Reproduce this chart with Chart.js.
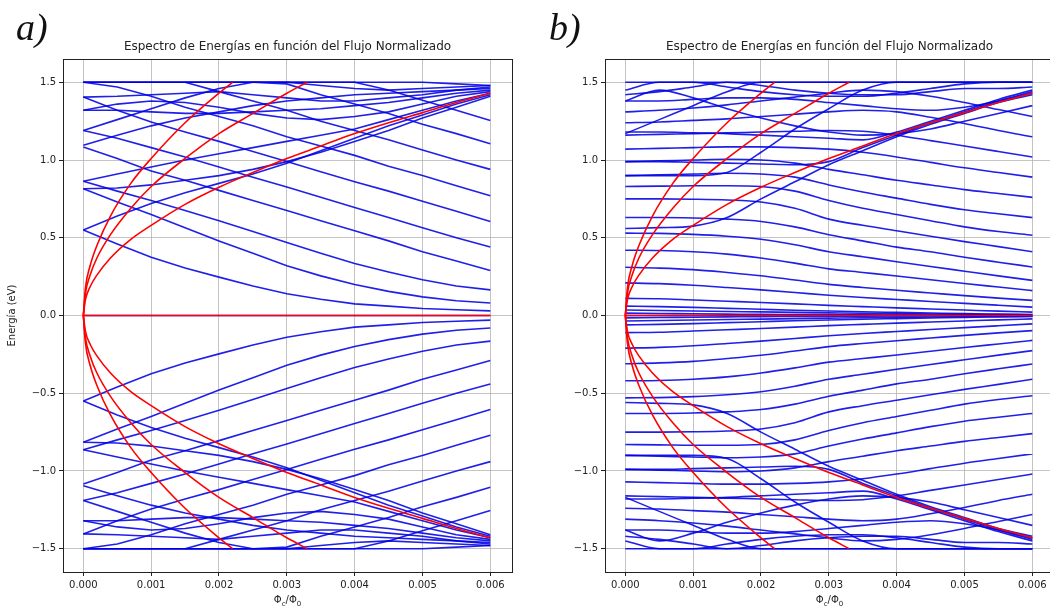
<!DOCTYPE html>
<html>
<head>
<meta charset="utf-8">
<script src="https://cdn.jsdelivr.net/npm/chart.js@4.4.1/dist/chart.umd.min.js"></script>
<style>
  html, body { margin: 0; padding: 0; background: #fff; }
  #wrap { position: relative; width: 1050px; height: 613px; overflow: hidden; }
  #boxA { position: absolute; left: 0; top: 0; width: 525px; height: 613px; }
  #boxB { position: absolute; left: 525px; top: 0; width: 525px; height: 613px; overflow: hidden; }
</style>
</head>
<body>
<div id="wrap">
  <div id="boxA"><canvas id="chartA" width="525" height="613"></canvas></div>
  <div id="boxB"><canvas id="chartB" width="541" height="613"></canvas></div>
</div>
<script>
// flux samples (Phi_c / Phi_0)
const xGrid = [0, 0.0005, 0.001, 0.0015, 0.002, 0.0025, 0.003, 0.0035, 0.004, 0.0045, 0.005, 0.0055, 0.006];

// Landau levels (red)
const llX1 = [0, 0.00003, 0.0001, 0.0002, 0.0004, 0.0007, 0.001, 0.0015, 0.002, 0.0025, 0.003, 0.0035, 0.004, 0.0045, 0.005, 0.0055, 0.006];
const ll1Up = [0, 0.10, 0.185, 0.26, 0.37, 0.49, 0.58, 0.715, 0.825, 0.92, 1.01, 1.09, 1.17, 1.24, 1.305, 1.37, 1.43];
const ll1Dn = [0, -0.10, -0.185, -0.26, -0.37, -0.49, -0.58, -0.715, -0.825, -0.92, -1.01, -1.09, -1.17, -1.24, -1.305, -1.37, -1.43];
const llX2 = [0, 0.00003, 0.0001, 0.0002, 0.0004, 0.0007, 0.001, 0.0015, 0.002, 0.0025, 0.003, 0.0033];
const ll2Up = [0, 0.14, 0.26, 0.37, 0.52, 0.69, 0.83, 1.01, 1.17, 1.30, 1.43, 1.5];
const ll2Dn = [0, -0.14, -0.26, -0.37, -0.52, -0.69, -0.83, -1.01, -1.17, -1.30, -1.43, -1.5];
const llX3 = [0, 0.00003, 0.0001, 0.0002, 0.0004, 0.0007, 0.001, 0.0015, 0.002, 0.0022];
const ll3Up = [0, 0.175, 0.32, 0.45, 0.64, 0.85, 1.01, 1.24, 1.43, 1.5];
const ll3Dn = [0, -0.175, -0.32, -0.45, -0.64, -0.85, -1.01, -1.24, -1.43, -1.5];
const llZeroX = [0, 0.006];
const llZero = [0, 0];

// panel a) blue levels, E > 0
const aUpper = [
  [0, 0, 0, 0, 0, 0, 0, 0, 0, 0, 0, 0, 0],
  [0.55, 0.46, 0.375, 0.305, 0.247, 0.19, 0.14, 0.105, 0.075, 0.06, 0.045, 0.037, 0.03],
  [0.815, 0.73, 0.65, 0.565, 0.48, 0.40, 0.32, 0.255, 0.20, 0.155, 0.12, 0.095, 0.08],
  [0.863, 0.80, 0.74, 0.675, 0.61, 0.54, 0.47, 0.40, 0.335, 0.28, 0.23, 0.19, 0.165],
  [1.084, 1.01, 0.93, 0.87, 0.805, 0.74, 0.676, 0.61, 0.545, 0.48, 0.41, 0.35, 0.29],
  [1.19, 1.14, 1.08, 1.02, 0.955, 0.89, 0.826, 0.76, 0.695, 0.63, 0.565, 0.50, 0.44],
  [1.405, 1.32, 1.245, 1.18, 1.12, 1.055, 0.99, 0.925, 0.86, 0.80, 0.735, 0.67, 0.605],
  [1.50, 1.47, 1.41, 1.34, 1.28, 1.22, 1.15, 1.09, 1.03, 0.96, 0.90, 0.835, 0.77],
  [1.50, 1.50, 1.50, 1.50, 1.44, 1.38, 1.32, 1.25, 1.19, 1.13, 1.065, 1.00, 0.94],
  [1.50, 1.50, 1.50, 1.50, 1.50, 1.50, 1.49, 1.42, 1.36, 1.30, 1.23, 1.17, 1.105],
  [1.50, 1.50, 1.50, 1.50, 1.50, 1.50, 1.50, 1.50, 1.50, 1.45, 1.385, 1.32, 1.255],
  [0.55, 0.64, 0.72, 0.79, 0.85, 0.91, 0.98, 1.06, 1.14, 1.22, 1.29, 1.36, 1.42],
  [0.863, 0.91, 0.955, 1.00, 1.04, 1.08, 1.12, 1.16, 1.20, 1.26, 1.32, 1.38, 1.43],
  [0.815, 0.82, 0.84, 0.87, 0.90, 0.94, 0.99, 1.05, 1.12, 1.19, 1.27, 1.34, 1.41],
  [1.095, 1.16, 1.22, 1.27, 1.31, 1.35, 1.38, 1.40, 1.42, 1.43, 1.44, 1.45, 1.46],
  [1.19, 1.26, 1.33, 1.40, 1.46, 1.50, 1.50, 1.48, 1.46, 1.45, 1.46, 1.47, 1.48],
  [1.32, 1.32, 1.31, 1.30, 1.30, 1.31, 1.32, 1.33, 1.35, 1.37, 1.40, 1.43, 1.45],
  [1.405, 1.41, 1.42, 1.43, 1.44, 1.42, 1.40, 1.38, 1.38, 1.40, 1.42, 1.45, 1.47],
  [1.32, 1.36, 1.38, 1.37, 1.34, 1.30, 1.27, 1.26, 1.28, 1.31, 1.36, 1.41, 1.44],
  [null, null, null, 1.50, 1.50, 1.50, 1.50, 1.50, 1.50, 1.50, 1.50, 1.49, 1.48]
];

// panel a) blue levels, E < 0
const aLower = [
  [-0.55, -0.46, -0.375, -0.305, -0.247, -0.19, -0.14, -0.105, -0.075, -0.06, -0.045, -0.037, -0.03],
  [-0.815, -0.73, -0.65, -0.565, -0.48, -0.40, -0.32, -0.255, -0.20, -0.155, -0.12, -0.095, -0.08],
  [-0.863, -0.80, -0.74, -0.675, -0.61, -0.54, -0.47, -0.40, -0.335, -0.28, -0.23, -0.19, -0.165],
  [-1.084, -1.01, -0.93, -0.87, -0.805, -0.74, -0.676, -0.61, -0.545, -0.48, -0.41, -0.35, -0.29],
  [-1.19, -1.14, -1.08, -1.02, -0.955, -0.89, -0.826, -0.76, -0.695, -0.63, -0.565, -0.50, -0.44],
  [-1.405, -1.32, -1.245, -1.18, -1.12, -1.055, -0.99, -0.925, -0.86, -0.80, -0.735, -0.67, -0.605],
  [-1.50, -1.47, -1.41, -1.34, -1.28, -1.22, -1.15, -1.09, -1.03, -0.96, -0.90, -0.835, -0.77],
  [-1.50, -1.50, -1.50, -1.50, -1.44, -1.38, -1.32, -1.25, -1.19, -1.13, -1.065, -1.00, -0.94],
  [-1.50, -1.50, -1.50, -1.50, -1.50, -1.50, -1.49, -1.42, -1.36, -1.30, -1.23, -1.17, -1.105],
  [-1.50, -1.50, -1.50, -1.50, -1.50, -1.50, -1.50, -1.50, -1.50, -1.45, -1.385, -1.32, -1.255],
  [-0.55, -0.64, -0.72, -0.79, -0.85, -0.91, -0.98, -1.06, -1.14, -1.22, -1.29, -1.36, -1.42],
  [-0.863, -0.91, -0.955, -1.00, -1.04, -1.08, -1.12, -1.16, -1.20, -1.26, -1.32, -1.38, -1.43],
  [-0.815, -0.82, -0.84, -0.87, -0.90, -0.94, -0.99, -1.05, -1.12, -1.19, -1.27, -1.34, -1.41],
  [-1.095, -1.16, -1.22, -1.27, -1.31, -1.35, -1.38, -1.40, -1.42, -1.43, -1.44, -1.45, -1.46],
  [-1.19, -1.26, -1.33, -1.40, -1.46, -1.50, -1.50, -1.48, -1.46, -1.45, -1.46, -1.47, -1.48],
  [-1.32, -1.32, -1.31, -1.30, -1.30, -1.31, -1.32, -1.33, -1.35, -1.37, -1.40, -1.43, -1.45],
  [-1.405, -1.41, -1.42, -1.43, -1.44, -1.42, -1.40, -1.38, -1.38, -1.40, -1.42, -1.45, -1.47],
  [-1.32, -1.36, -1.38, -1.37, -1.34, -1.30, -1.27, -1.26, -1.28, -1.31, -1.36, -1.41, -1.44],
  [null, null, null, -1.50, -1.50, -1.50, -1.50, -1.50, -1.50, -1.50, -1.50, -1.49, -1.48]
];

// panel b) blue levels, E > 0
const bUpper = [
  [0, 0, 0, 0, 0, 0, 0, 0, 0, 0, 0, 0, 0],
  [0.015, 0.013, 0.011, 0.009, 0.007, 0.006, 0.005, 0.004, 0.003, 0.002, 0.002, 0.001, 0.001],
  [0.035, 0.032, 0.029, 0.026, 0.023, 0.020, 0.017, 0.014, 0.012, 0.010, 0.008, 0.006, 0.005],
  [0.06, 0.057, 0.052, 0.046, 0.040, 0.034, 0.029, 0.024, 0.020, 0.016, 0.012, 0.009, 0.006],
  [0.11, 0.108, 0.100, 0.092, 0.084, 0.075, 0.065, 0.057, 0.049, 0.042, 0.035, 0.028, 0.022],
  [0.21, 0.205, 0.195, 0.180, 0.165, 0.148, 0.130, 0.116, 0.103, 0.090, 0.078, 0.066, 0.054],
  [0.31, 0.305, 0.295, 0.277, 0.256, 0.228, 0.200, 0.180, 0.162, 0.145, 0.128, 0.112, 0.097],
  [0.42, 0.418, 0.410, 0.395, 0.370, 0.337, 0.300, 0.277, 0.254, 0.230, 0.206, 0.183, 0.160],
  [0.53, 0.528, 0.522, 0.510, 0.490, 0.455, 0.410, 0.378, 0.346, 0.315, 0.285, 0.255, 0.226],
  [0.63, 0.630, 0.627, 0.620, 0.605, 0.570, 0.520, 0.480, 0.440, 0.410, 0.375, 0.343, 0.312],
  [0.75, 0.750, 0.748, 0.743, 0.730, 0.690, 0.620, 0.580, 0.545, 0.510, 0.475, 0.443, 0.410],
  [0.83, 0.832, 0.835, 0.835, 0.830, 0.800, 0.740, 0.690, 0.650, 0.610, 0.570, 0.540, 0.516],
  [0.90, 0.905, 0.910, 0.915, 0.910, 0.890, 0.840, 0.795, 0.755, 0.715, 0.680, 0.655, 0.630],
  [0.99, 0.995, 1.000, 1.005, 1.000, 0.980, 0.940, 0.905, 0.870, 0.840, 0.810, 0.785, 0.760],
  [1.07, 1.075, 1.080, 1.085, 1.085, 1.080, 1.070, 1.050, 1.020, 0.985, 0.950, 0.920, 0.890],
  [1.16, 1.165, 1.170, 1.175, 1.180, 1.185, 1.190, 1.185, 1.160, 1.125, 1.090, 1.055, 1.020],
  [1.24, 1.245, 1.255, 1.265, 1.280, 1.295, 1.310, 1.320, 1.310, 1.275, 1.235, 1.190, 1.150],
  [1.31, 1.320, 1.335, 1.355, 1.380, 1.405, 1.430, 1.450, 1.440, 1.410, 1.370, 1.325, 1.280],
  [0.56, 0.565, 0.575, 0.630, 0.750, 0.860, 0.970, 1.060, 1.150, 1.230, 1.300, 1.370, 1.420],
  [0.99, 0.990, 0.985, 0.980, 0.975, 0.970, 0.990, 1.080, 1.160, 1.240, 1.310, 1.380, 1.440],
  [1.18, 1.180, 1.175, 1.170, 1.160, 1.150, 1.140, 1.130, 1.180, 1.250, 1.320, 1.390, 1.450],
  [1.38, 1.380, 1.390, 1.400, 1.400, 1.390, 1.370, 1.350, 1.330, 1.320, 1.340, 1.380, 1.430],
  [1.42, 1.440, 1.470, 1.500, 1.480, 1.450, 1.430, 1.420, 1.420, 1.440, 1.460, 1.460, 1.470],
  [1.45, 1.500, 1.500, 1.470, 1.440, 1.420, 1.410, 1.410, 1.430, 1.460, 1.490, 1.500, 1.500],
  [1.50, 1.500, 1.500, 1.500, 1.500, 1.500, 1.500, 1.500, 1.500, 1.500, 1.500, 1.500, 1.500],
  [1.17, 1.260, 1.350, 1.440, 1.500, 1.500, 1.500, 1.500, 1.500, 1.500, 1.500, 1.500, 1.500],
  [1.38, 1.450, 1.400, 1.330, 1.270, 1.220, 1.180, 1.160, 1.170, 1.200, 1.250, 1.300, 1.350],
  [0.90, 0.900, 0.900, 0.920, 1.050, 1.200, 1.330, 1.450, 1.500, 1.500, 1.500, 1.500, 1.500]
];

// panel b) blue levels, E < 0
const bLower = [
  [-0.015, -0.013, -0.011, -0.009, -0.007, -0.006, -0.005, -0.004, -0.003, -0.002, -0.002, -0.001, -0.001],
  [-0.035, -0.032, -0.029, -0.026, -0.023, -0.020, -0.017, -0.014, -0.012, -0.010, -0.008, -0.006, -0.005],
  [-0.06, -0.057, -0.052, -0.046, -0.040, -0.034, -0.029, -0.024, -0.020, -0.016, -0.012, -0.009, -0.006],
  [-0.11, -0.108, -0.100, -0.092, -0.084, -0.075, -0.065, -0.057, -0.049, -0.042, -0.035, -0.028, -0.022],
  [-0.21, -0.205, -0.195, -0.180, -0.165, -0.148, -0.130, -0.116, -0.103, -0.090, -0.078, -0.066, -0.054],
  [-0.31, -0.305, -0.295, -0.277, -0.256, -0.228, -0.200, -0.180, -0.162, -0.145, -0.128, -0.112, -0.097],
  [-0.42, -0.418, -0.410, -0.395, -0.370, -0.337, -0.300, -0.277, -0.254, -0.230, -0.206, -0.183, -0.160],
  [-0.53, -0.528, -0.522, -0.510, -0.490, -0.455, -0.410, -0.378, -0.346, -0.315, -0.285, -0.255, -0.226],
  [-0.63, -0.630, -0.627, -0.620, -0.605, -0.570, -0.520, -0.480, -0.440, -0.410, -0.375, -0.343, -0.312],
  [-0.75, -0.750, -0.748, -0.743, -0.730, -0.690, -0.620, -0.580, -0.545, -0.510, -0.475, -0.443, -0.410],
  [-0.83, -0.832, -0.835, -0.835, -0.830, -0.800, -0.740, -0.690, -0.650, -0.610, -0.570, -0.540, -0.516],
  [-0.90, -0.905, -0.910, -0.915, -0.910, -0.890, -0.840, -0.795, -0.755, -0.715, -0.680, -0.655, -0.630],
  [-0.99, -0.995, -1.000, -1.005, -1.000, -0.980, -0.940, -0.905, -0.870, -0.840, -0.810, -0.785, -0.760],
  [-1.07, -1.075, -1.080, -1.085, -1.085, -1.080, -1.070, -1.050, -1.020, -0.985, -0.950, -0.920, -0.890],
  [-1.16, -1.165, -1.170, -1.175, -1.180, -1.185, -1.190, -1.185, -1.160, -1.125, -1.090, -1.055, -1.020],
  [-1.24, -1.245, -1.255, -1.265, -1.280, -1.295, -1.310, -1.320, -1.310, -1.275, -1.235, -1.190, -1.150],
  [-1.31, -1.320, -1.335, -1.355, -1.380, -1.405, -1.430, -1.450, -1.440, -1.410, -1.370, -1.325, -1.280],
  [-0.56, -0.565, -0.575, -0.630, -0.750, -0.860, -0.970, -1.060, -1.150, -1.230, -1.300, -1.370, -1.420],
  [-0.99, -0.990, -0.985, -0.980, -0.975, -0.970, -0.990, -1.080, -1.160, -1.240, -1.310, -1.380, -1.440],
  [-1.18, -1.180, -1.175, -1.170, -1.160, -1.150, -1.140, -1.130, -1.180, -1.250, -1.320, -1.390, -1.450],
  [-1.38, -1.380, -1.390, -1.400, -1.400, -1.390, -1.370, -1.350, -1.330, -1.320, -1.340, -1.380, -1.430],
  [-1.42, -1.440, -1.470, -1.500, -1.480, -1.450, -1.430, -1.420, -1.420, -1.440, -1.460, -1.460, -1.470],
  [-1.45, -1.500, -1.500, -1.470, -1.440, -1.420, -1.410, -1.410, -1.430, -1.460, -1.490, -1.500, -1.500],
  [-1.50, -1.500, -1.500, -1.500, -1.500, -1.500, -1.500, -1.500, -1.500, -1.500, -1.500, -1.500, -1.500],
  [-1.17, -1.260, -1.350, -1.440, -1.500, -1.500, -1.500, -1.500, -1.500, -1.500, -1.500, -1.500, -1.500],
  [-1.38, -1.450, -1.400, -1.330, -1.270, -1.220, -1.180, -1.160, -1.170, -1.200, -1.250, -1.300, -1.350],
  [-0.90, -0.900, -0.900, -0.920, -1.050, -1.200, -1.330, -1.450, -1.500, -1.500, -1.500, -1.500, -1.500]
];

const titleText = 'Espectro de Energías en función del Flujo Normalizado';
const yTitle = 'Energía (eV)';

const blue = 'rgba(0, 0, 230, 0.88)';
const red = '#ff0000';
const gridColor = 'rgba(176, 176, 176, 0.75)';

function pts(xs, ys) {
    return ys.map((y, i) => ({ x: xs[i], y: y }));
}

function redSets() {
    const pairs = [[llZeroX, llZero], [llX1, ll1Up], [llX1, ll1Dn], [llX2, ll2Up], [llX2, ll2Dn], [llX3, ll3Up], [llX3, ll3Dn]];
    return pairs.map(p => ({
        data: pts(p[0], p[1]),
        borderColor: red,
        borderWidth: 1.6,
        pointRadius: 0,
        cubicInterpolationMode: 'monotone'
    }));
}

function blueSets(lines, smooth) {
    return lines.map(vals => ({
        data: pts(xGrid, vals),
        borderColor: blue,
        borderWidth: 1.6,
        pointRadius: 0,
        spanGaps: false,
        cubicInterpolationMode: smooth ? 'monotone' : 'default',
        tension: 0
    }));
}

// frame, title, panel letter and x-axis label with subscripts
const decorPlugin = {
    id: 'decor',
    afterDraw(chart, args, opts) {
        const ctx = chart.ctx;
        const a = chart.chartArea;
        ctx.save();
        ctx.strokeStyle = '#222';
        ctx.lineWidth = 1;
        ctx.strokeRect(Math.round(a.left) + 0.5, Math.round(a.top) + 0.5, Math.round(a.right - a.left), Math.round(a.bottom - a.top));

        const cx = (a.left + a.right) / 2;
        ctx.fillStyle = '#222';
        ctx.font = '12px "DejaVu Sans"';
        ctx.textAlign = 'center';
        ctx.textBaseline = 'middle';
        ctx.fillText(titleText, cx, 47);

        ctx.fillStyle = '#111';
        ctx.font = 'italic 38px "Liberation Serif"';
        ctx.textAlign = 'left';
        ctx.textBaseline = 'alphabetic';
        ctx.fillText(opts.letter, opts.letterX, 40);

        // Φc/Φ0
        const parts = [['Φ', 10, 0], ['c', 7, 3], ['/Φ', 10, 0], ['0', 7, 3]];
        let total = 0;
        parts.forEach(p => { ctx.font = p[1] + 'px "DejaVu Sans"'; total += ctx.measureText(p[0]).width; });
        let x = cx - total / 2;
        ctx.fillStyle = '#222';
        parts.forEach(p => {
            ctx.font = p[1] + 'px "DejaVu Sans"';
            ctx.fillText(p[0], x, 603 + p[2]);
            x += ctx.measureText(p[0]).width;
        });
        ctx.restore();
    }
};

function makeChart(id, upper, lower, smooth, opts) {
    const ctx = document.getElementById(id).getContext('2d');
    return new Chart(ctx, {
        type: 'line',
        data: {
            datasets: redSets().concat(blueSets(upper, smooth), blueSets(lower, smooth))
        },
        options: {
            responsive: false,
            animation: false,
            devicePixelRatio: 1,
            layout: { padding: { top: 59, right: opts.padRight, left: 0, bottom: 0 } },
            plugins: {
                legend: { display: false },
                tooltip: { enabled: false },
                decor: { letter: opts.letter, letterX: opts.letterX }
            },
            scales: {
                x: {
                    type: 'linear',
                    min: -0.0003,
                    max: 0.00632,
                    afterFit: s => { s.height = 41; },
                    ticks: {
                        stepSize: 0.001,
                        includeBounds: false,
                        autoSkip: false,
                        maxRotation: 0,
                        padding: 3,
                        color: '#222',
                        font: { family: 'DejaVu Sans', size: 10 },
                        callback: v => v.toFixed(3)
                    },
                    grid: { color: gridColor, lineWidth: 1, tickLength: 4, tickColor: '#222' },
                    border: { color: '#222' }
                },
                y: {
                    type: 'linear',
                    min: -1.65,
                    max: 1.65,
                    afterFit: s => { s.width = opts.yWidth; },
                    ticks: {
                        stepSize: 0.5,
                        includeBounds: false,
                        padding: 3,
                        color: '#222',
                        font: { family: 'DejaVu Sans', size: 10 },
                        callback: v => (v < 0 ? '\u2212' : '') + Math.abs(v).toFixed(1)
                    },
                    title: {
                        display: opts.showYTitle,
                        text: yTitle,
                        color: '#222',
                        font: { family: 'DejaVu Sans', size: 10 },
                        padding: { top: 6, bottom: 0 }
                    },
                    grid: { color: gridColor, lineWidth: 1, tickLength: 4, tickColor: '#222' },
                    border: { color: '#222' }
                }
            }
        },
        plugins: [decorPlugin]
    });
}

makeChart('chartA', aUpper, aLower, false, { padRight: 13, yWidth: 63, showYTitle: true, letter: 'a)', letterX: 16 });
makeChart('chartB', bUpper, bLower, true, { padRight: 12, yWidth: 80, showYTitle: false, letter: 'b)', letterX: 24 });
</script>
</body>
</html>
